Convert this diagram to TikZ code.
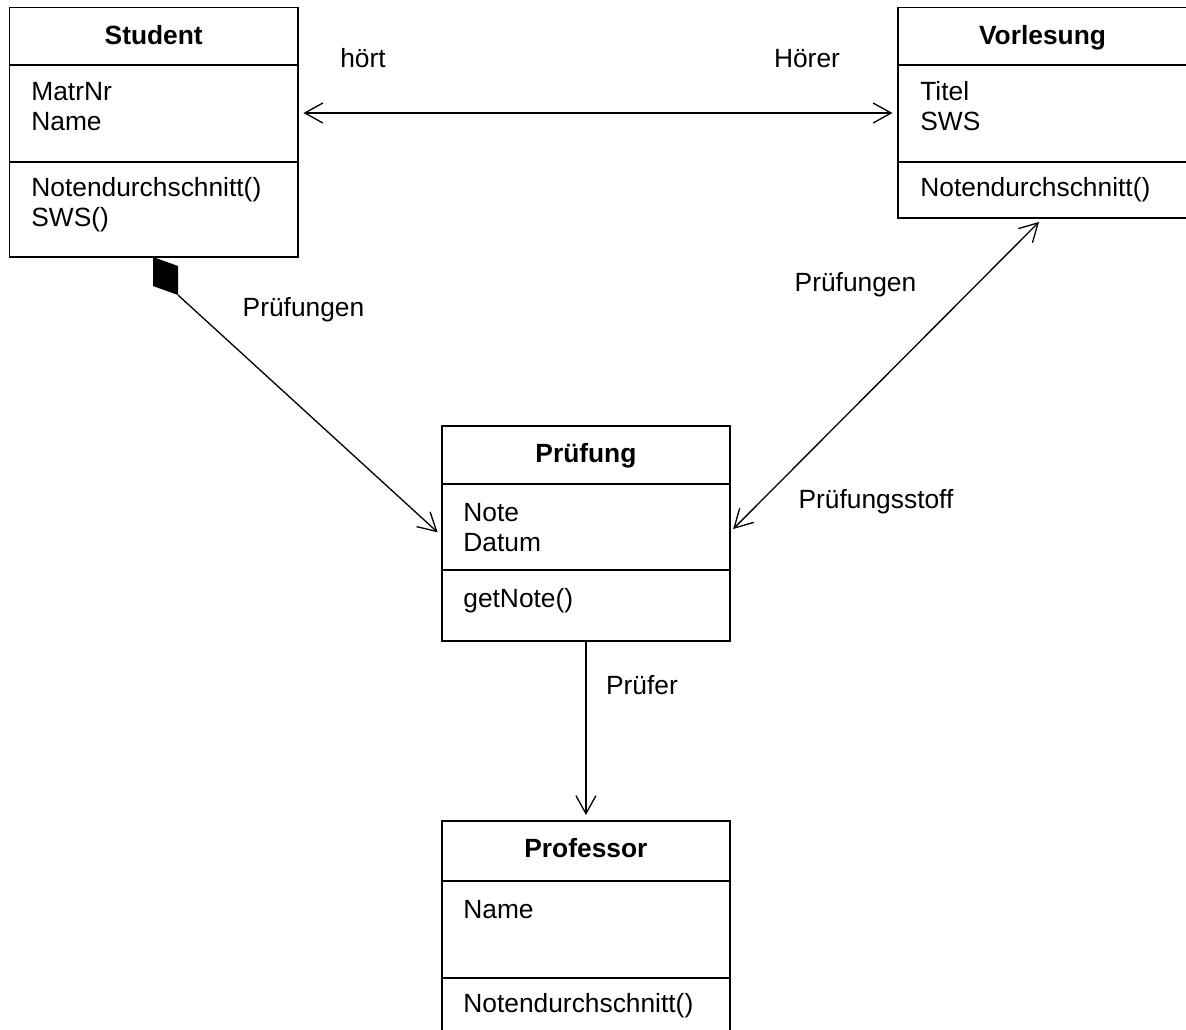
\documentclass[tikz,border=0pt]{standalone}
\usepackage{fontspec}
\setmainfont{Liberation Sans}
\usetikzlibrary{arrows.meta}

\tikzset{
  klasse/.style={draw, line width=1.1pt, anchor=north west, outer sep=0pt,
    inner sep=0pt, minimum width=5.77cm},
  teil/.style={line width=1.1pt},
  titel/.style={font=\fontsize{15}{17}\selectfont\bfseries, anchor=base, inner sep=0pt},
  eintrag/.style={anchor=base west, align=left, inner sep=0pt},
  rolle/.style={anchor=base, inner sep=0pt},
  assoc/.style={line width=0.75pt, -{Straight Barb[length=0.36cm, width=0.4cm]}},
  assoc2/.style={line width=0.75pt, {Straight Barb[length=0.36cm, width=0.4cm]}-{Straight Barb[length=0.36cm, width=0.4cm]}}
}

\begin{document}
\begin{tikzpicture}[x=0.02cm, y=-0.02cm, font=\fontsize{15}{17}\selectfont]
    \useasboundingbox (0,0) rectangle (1186,1029);
    \clip (0,0) rectangle (1186,1029);

    \node[klasse, minimum height=4.99cm] (student) at (9.5,7.5) {};
    \draw[teil] (student.west |- 0,65) -- (student.east |- 0,65);
    \draw[teil] (student.west |- 0,161.7) -- (student.east |- 0,161.7);
    \node[titel] at (student.north |- 0,44) {Student};
    \node[eintrag] at (31,130) {MatrNr\\Name};
    \node[eintrag] at (31,226) {Notendurchschnitt()\\SWS()};

    \node[klasse, minimum height=4.216cm, minimum width=5.82cm] (vorlesung) at (898,7.5) {};
    \draw[teil] (vorlesung.west |- 0,65) -- (vorlesung.east |- 0,65);
    \draw[teil] (vorlesung.west |- 0,161.7) -- (vorlesung.east |- 0,161.7);
    \node[titel] at (898+144.5,44) {Vorlesung};
    \node[eintrag] at (920,130) {Titel\\SWS};
    \node[eintrag] at (920,196) {Notendurchschnitt()};

    \node[klasse, minimum height=4.3cm] (pruefung) at (441.7,425.7) {};
    \draw[teil] (pruefung.west |- 0,484.3) -- (pruefung.east |- 0,484.3);
    \draw[teil] (pruefung.west |- 0,570) -- (pruefung.east |- 0,570);
    \node[titel] at (pruefung.north |- 0,462) {Prüfung};
    \node[eintrag] at (463,551) {Note\\Datum};
    \node[eintrag] at (463,607) {getNote()};

    \node[klasse, minimum height=4.4cm] (professor) at (441.7,821) {};
    \draw[teil] (professor.west |- 0,881) -- (professor.east |- 0,881);
    \draw[teil] (professor.west |- 0,978.3) -- (professor.east |- 0,978.3);
    \node[titel] at (professor.north |- 0,857) {Professor};
    \node[eintrag] at (463,918) {Name};
    \node[eintrag] at (463,1012) {Notendurchschnitt()};

    \draw[assoc2, shorten <=4.2\pgflinewidth, shorten >=4.2\pgflinewidth]
      (student.east |- 0,113) -- (vorlesung.west |- 0,113);
    \node[rolle] at (363,67) {hört};
    \node[rolle] at (807,67) {Hörer};

    \fill (153,257) -- (178,266) -- (178,295) -- (153,286) -- cycle;
    \coordinate (raute) at (178,295);
    \draw[assoc, shorten >=0.11cm] (raute) -- (pruefung.west |- 0,536);
    \node[rolle] at (303.5,316) {Prüfungen};

    \draw[assoc2, shorten <=0.084cm, shorten >=0.104cm]
      (pruefung.east |- 0,532) -- (vorlesung.south -| 1042.7,0);
    \node[rolle] at (855.5,291.7) {Prüfungen};
    \node[rolle] at (876,508) {Prüfungsstoff};

    \draw[assoc, shorten >=0.12cm] (pruefung.south) -- (professor.north);
    \node[rolle] at (642,694) {Prüfer};
\end{tikzpicture}
\end{document}
